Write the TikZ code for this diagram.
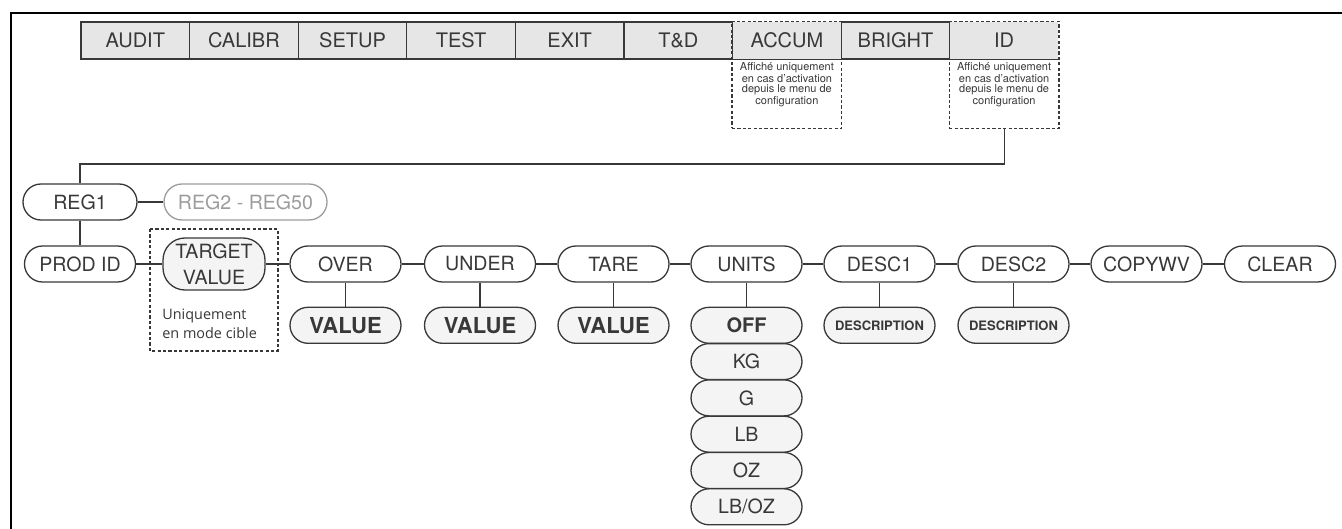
\documentclass[tikz,border=0pt]{standalone}
\usepackage{fontspec}
\setmainfont{TeX Gyre Heros}
\newfontfamily\notefont{Open Sans}
\usetikzlibrary{positioning,fit}
\definecolor{ink}{HTML}{383838}
\definecolor{cellgrey}{HTML}{E6E6E6}
\definecolor{optfill}{HTML}{F4F4F4}
\definecolor{faded}{HTML}{9C9C9C}
\tikzset{
  menucell/.style={draw=ink,fill=cellgrey,line width=.6pt,minimum width=54.3pt,minimum height=18.5pt,inner sep=0pt,text=ink,font=\fontsize{10}{12}\selectfont},
  optcell/.style={menucell,draw=none},
  optbox/.style={draw=ink,line width=.6pt,dash pattern=on 1.6pt off 1.1pt},
  cellnote/.style={text=ink,align=center,inner sep=0pt,text depth=11.5pt,font=\fontsize{5.5}{5}\selectfont},
  pill/.style={draw=ink,line width=.65pt,rounded corners=9pt,minimum width=55.5pt,minimum height=18pt,inner sep=0pt,text=ink,font=\fontsize{9.8}{12}\selectfont},
  choice/.style={pill,fill=optfill},
  valuebox/.style={choice,font=\fontsize{11}{13}\selectfont\bfseries},
  descbox/.style={choice,font=\fontsize{6.5}{8}\selectfont\bfseries},
  modenote/.style={text=ink,align=left,inner sep=0pt,font=\notefont\fontsize{7.2}{9.5}\selectfont},
  link/.style={draw=ink,line width=.6pt}
}
\begin{document}
\begin{tikzpicture}[x=.5pt,y=-.5pt]
\useasboundingbox (0,0) rectangle (1342,529);
\draw[black,line width=1pt] (11,529) -- (11,13) -- (1342,13);
% menu bar
\node[menucell] (audit) at (135.3,40.5) {AUDIT};
\node[menucell] (calibr) at (243.9,40.5) {CALIBR};
\node[menucell] (setup) at (352.5,40.5) {SETUP};
\node[menucell] (test) at (461.1,40.5) {TEST};
\node[menucell] (exit) at (569.7,40.5) {EXIT};
\node[menucell] (td) at (678.3,40.5) {T\&D};
\node[optcell] (accum) at (786.9,40.5) {ACCUM};
\node[menucell] (bright) at (895.5,40.5) {BRIGHT};
\node[optcell] (id) at (1004.1,40.5) {ID};
\draw[link] (accum.south west) -- (accum.south east);
\draw[link] (id.south west) -- (id.south east);
\node[cellnote,below=1pt of accum] (accumnote) {Affiché uniquement\\en cas d’activation\\depuis le menu de\\configuration};
\node[cellnote,below=1pt of id] (idnote) {Affiché uniquement\\en cas d’activation\\depuis le menu de\\configuration};
\node[optbox,fit=(accum)(accumnote),inner sep=0pt] (accumframe) {};
\node[optbox,fit=(id)(idnote),inner sep=0pt] (idframe) {};
% registers
\node[pill,minimum width=57pt] (reg1) at (80,202) {REG1};
\node[pill,draw=faded,text=faded,minimum width=81.5pt] (regmore) at (245.5,202) {REG2 - REG50};
\draw[link] (idframe.south) -- ++(0,35) -| (reg1.north);
\draw[link] (reg1) -- (regmore);
% parameters
\node[pill] (prodid) at (80,264) {PROD ID};
\node[choice,minimum width=51pt,minimum height=26pt,rounded corners=11pt,align=center,font=\fontsize{9.8}{13}\selectfont] (target) at (214,264) {TARGET\\VALUE};
\node[modenote,anchor=west] (targetnote) at (162,323.5) {Uniquement\\en mode cible};
\draw[optbox] (150,229) rectangle (278,351);
\node[pill] (over) at (345.5,264) {OVER};
\node[pill] (under) at (480,264) {UNDER};
\node[pill] (tare) at (613.5,264) {TARE};
\node[pill] (units) at (746.5,264) {UNITS};
\node[pill] (desc1) at (879.5,264) {DESC1};
\node[pill] (desc2) at (1013.5,264) {DESC2};
\node[pill] (copywv) at (1146.5,264) {COPYWV};
\node[pill] (clear) at (1280,264) {CLEAR};
\draw[link] (reg1) -- (prodid);
\draw[link] (prodid) -- (target) (target) -- (over) (over) -- (under) (under) -- (tare)
  (tare) -- (units) (units) -- (desc1) (desc1) -- (desc2) (desc2) -- (copywv) (copywv) -- (clear);
% values
\node[valuebox,below=12pt of over] (overval) {VALUE};
\node[valuebox,below=12pt of under] (underval) {VALUE};
\node[valuebox,below=12pt of tare] (tareval) {VALUE};
\node[descbox,below=12pt of desc1] (desc1val) {DESCRIPTION};
\node[descbox,below=12pt of desc2] (desc2val) {DESCRIPTION};
\node[choice,below=12pt of units,font=\fontsize{10}{12}\selectfont\bfseries] (off) {OFF};
\node[choice,below=-.5pt of off] (kg) {KG};
\node[choice,below=-.5pt of kg] (g) {G};
\node[choice,below=-.5pt of g] (lb) {LB};
\node[choice,below=-.5pt of lb] (oz) {OZ};
\node[choice,below=-.5pt of oz] (lboz) {LB/OZ};
\draw[link] (over) -- (overval) (under) -- (underval) (tare) -- (tareval)
  (units) -- (off) (desc1) -- (desc1val) (desc2) -- (desc2val);
\end{tikzpicture}
\end{document}
